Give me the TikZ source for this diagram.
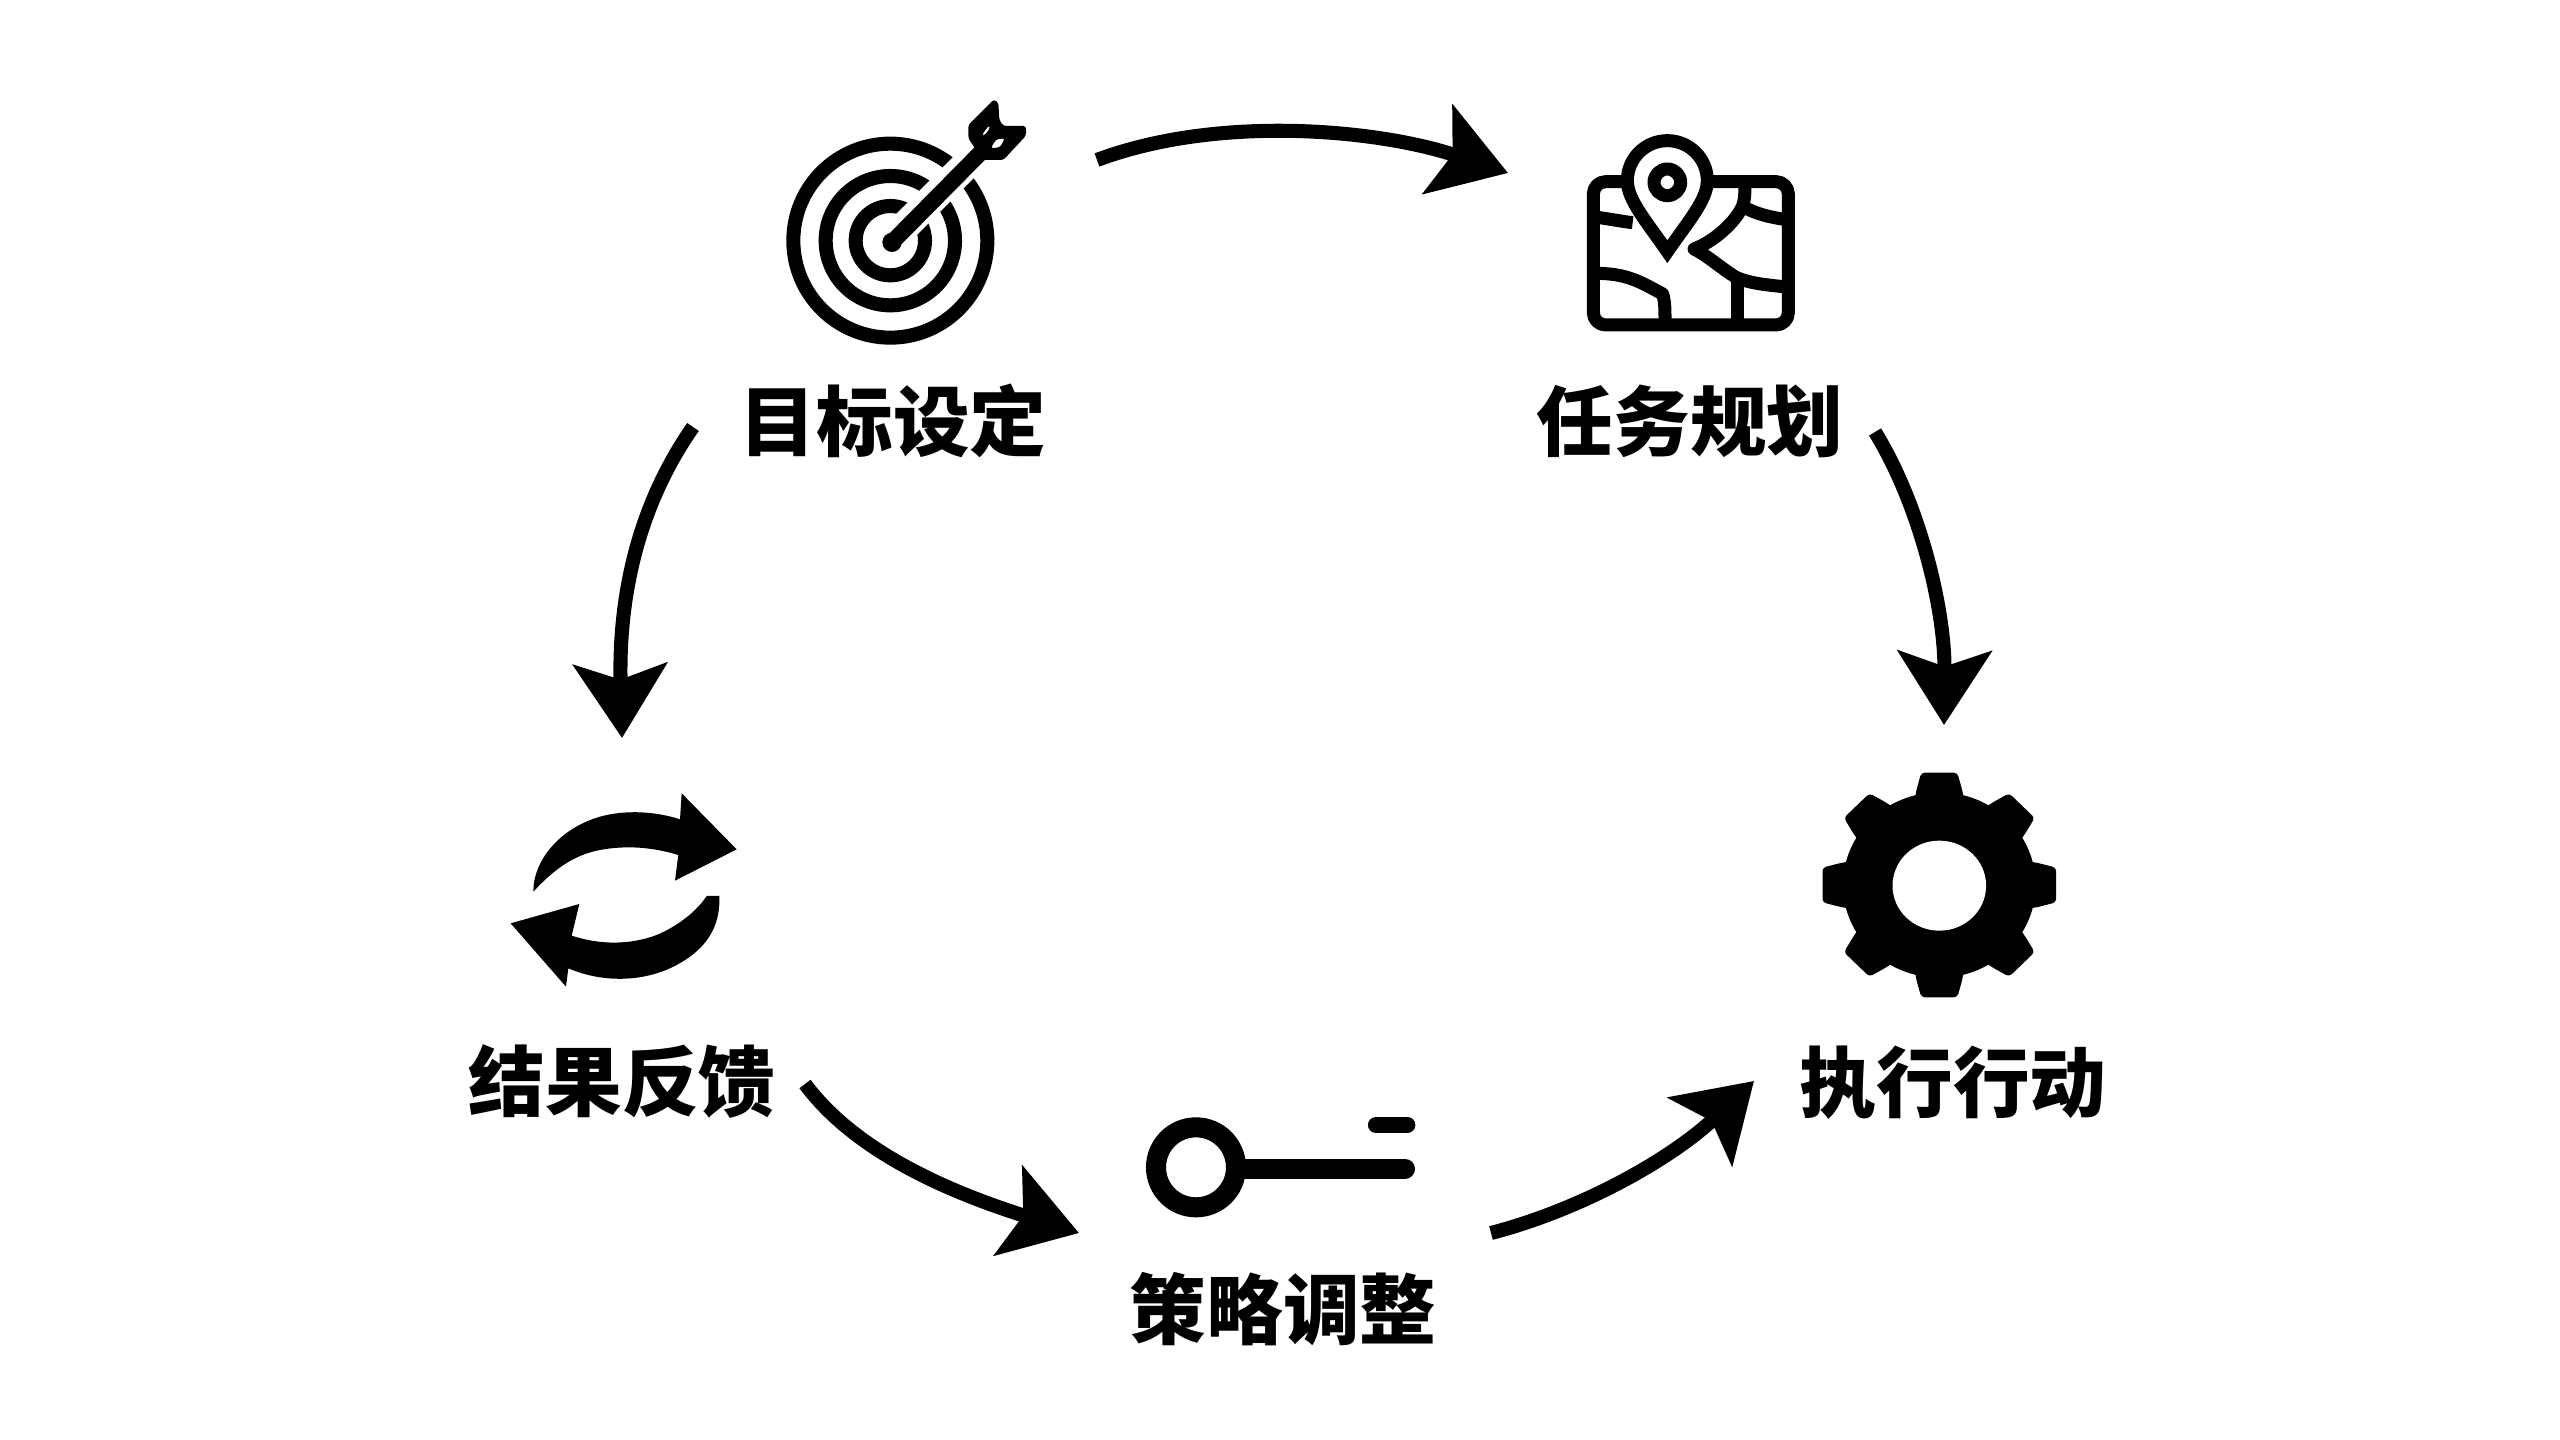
\documentclass[tikz,border=0pt]{standalone}
\usepackage{fontspec}
\newfontfamily\cjk{Noto Sans CJK SC}[UprightFont=* Black]
\usetikzlibrary{arrows.meta}
\tikzset{
    steplabel/.style={font=\cjk\fontsize{21.8}{25}\selectfont, inner sep=0pt, text=black},
    flowarrow/.style={line width=4pt, -{Stealth[length=21pt, width=26.5pt, inset=4.4pt]}},
    iconline/.style={line width=4pt},
    mapline/.style={line width=3.7pt, line join=round}
}

\begin{document}
\begin{tikzpicture}[x=0.01cm, y=-0.01cm]
    \path[use as bounding box, fill=white] (0,0) rectangle (2560,1440);

    \node[steplabel] (goal) at (893,421) {目标设定};
    \node[steplabel] (plan) at (1690,421) {任务规划};
    \node[steplabel] (act) at (1953,1083) {执行行动};
    \node[steplabel] (adjust) at (1283,1309) {策略调整};
    \node[steplabel] (feedback) at (622,1081) {结果反馈};

    \coordinate (goalright) at (1097,160);
    \coordinate (planleft) at (1508,173);
    \coordinate (planlabel) at (1875,432);
    \coordinate (gearup) at (1944,725);
    \coordinate (adjustright) at (1491,1233);
    \coordinate (actleft) at (1754,1081);
    \coordinate (feedbackright) at (805,1084);
    \coordinate (adjustleft) at (1079,1233);
    \coordinate (goallabel) at (693,427);
    \coordinate (loopup) at (622,738);

    \draw[flowarrow] (goalright) .. controls (1220,114) and (1380,130) .. (planleft);
    \draw[flowarrow] (planlabel) .. controls (1920,505) and (1945,610) .. (gearup);
    \draw[flowarrow] (adjustright) .. controls (1580,1210) and (1670,1160) .. (actleft);
    \draw[flowarrow] (feedbackright) .. controls (860,1158) and (965,1197) .. (adjustleft);
    \draw[flowarrow] (goallabel) .. controls (628,520) and (619,620) .. (loopup);

    \begin{scope}[shift={(740,70)}, scale=1/3]
        \draw[iconline] (451,512) circle[radius=291];
        \draw[iconline] (451,512) circle[radius=194];
        \draw[iconline] (451,512) circle[radius=104];
        \draw[white, line width=8.4pt] (451,512) -- (780,183);
        \draw[line width=4.6pt, line cap=round] (455,518) -- (725,245);
        \fill (456,517) circle[radius=29];
        \fill[rounded corners=0.8pt, even odd rule] (762,88) -- (685,165) -- (685,205) -- (705,235) -- (730,270) -- (790,270) -- (858,197) -- (858,168) -- (790,168) -- (778,150) -- (775,98) -- cycle
            (748,165) -- (725,195) -- (732,198) -- (750,175) -- cycle
            (795,205) -- (768,208) -- (752,235) -- (780,232) -- cycle;
    \end{scope}

    \begin{scope}[shift={(1560,110)}, scale=1/3]
        \draw[mapline, rounded corners=3.5pt] (100,215) rectangle (685,645);
        \draw[mapline] (105,321) .. controls (155,328) and (190,335) .. (218,338);
        \draw[mapline] (555,220) .. controls (555,265) and (552,285) .. (540,303) .. controls (515,345) and (460,395) .. (402,417) .. controls (440,435) and (490,480) .. (530,503) .. controls (570,520) and (620,525) .. (680,531);
        \draw[mapline] (555,293) .. controls (590,312) and (630,322) .. (680,329);
        \draw[mapline] (533,510) -- (533,630);
        \draw[mapline] (105,490) .. controls (200,490) and (240,515) .. (308,552) .. controls (315,575) and (315,600) .. (315,630);
        \draw[mapline, fill=white, line join=miter] (322,425) .. controls (260,335) and (202,270) .. (202,212) arc[start angle=180, end angle=360, radius=120] .. controls (442,270) and (384,335) .. (322,425) -- cycle;
        \draw[mapline] (322,217) circle[radius=40];
    \end{scope}

    \begin{scope}[shift={(1794.4,750)}, xscale=1.04/3, yscale=1/3]
        \fill (418,405) circle[radius=278];
        \foreach \a in {0,45,...,315} {
            \fill[rotate around={\a:(418,405)}, rounded corners=1pt] (345,160) -- (352,120) -- (366,68) -- (470,68) -- (484,120) -- (491,160) -- cycle;
        }
        \fill[white] (418,407) ellipse[x radius=135, y radius=135];
    \end{scope}

    \begin{scope}[shift={(500,770)}, scale=1/3]
        \fill (100,365) .. controls (100,270) and (180,175) .. (300,140) .. controls (380,118) and (470,125) .. (540,148) -- (545,70) -- (710,238) -- (525,332) -- (535,255) .. controls (460,232) and (380,225) .. (300,240) .. controls (220,255) and (160,300) .. (100,365) -- cycle;
        \fill (620,378) -- (658,378) .. controls (662,470) and (620,540) .. (520,590) .. controls (430,635) and (310,640) .. (205,595) -- (198,650) -- (32,460) -- (238,402) -- (215,497) .. controls (300,525) and (390,525) .. (470,495) .. controls (530,470) and (590,425) .. (620,378) -- cycle;
    \end{scope}

    \begin{scope}[shift={(1130,1090)}, scale=1/3]
        \draw[line width=5.7pt] (198,232) circle[radius=120];
        \draw[line width=5.7pt, line cap=round] (330,236) -- (825,236);
        \draw[line width=4.6pt, line cap=round] (738,105) -- (832,105);
    \end{scope}
\end{tikzpicture}
\end{document}
